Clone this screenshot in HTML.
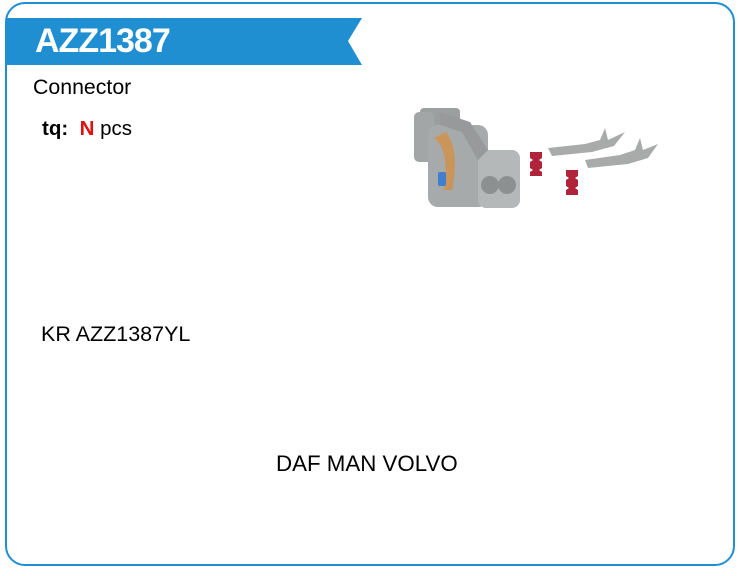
<!DOCTYPE html>
<html><head><style>
body{margin:0;width:740px;height:576px;background:#fff;font-family:"Liberation Sans",sans-serif;position:relative;overflow:hidden}
.box{position:absolute;left:5px;top:2px;width:726px;height:560px;border:2px solid #1f8fd2;border-radius:20px}
.t{position:absolute;white-space:nowrap;color:#000}
</style></head><body>
<div class="box"></div>
<svg style="position:absolute;left:0;top:0" width="740" height="576">
<polygon points="6,18 362,18 348,41 362,65 6,65" fill="#1f8fd2"/>
<g>
<rect x="420" y="108" width="40" height="20" rx="4" fill="#9c9fa0"/>
<rect x="414" y="112" width="20" height="50" rx="5" fill="#a3a6a7"/>
<rect x="428" y="125" width="60" height="82" rx="10" fill="#a7aaab"/>
<rect x="478" y="150" width="42" height="58" rx="8" fill="#b5b8b9"/>
<path d="M440 112 L470 122 L488 150 L478 160 L462 132 L440 125Z" fill="#97999a"/>
<path d="M434 138 Q450 150 444 190 L452 190 Q460 150 446 132Z" fill="#c9955a"/>
<rect x="438" y="172" width="8" height="14" rx="2" fill="#3f7fd0"/>
<circle cx="490" cy="185" r="9" fill="#8d9091"/>
<circle cx="507" cy="185" r="9" fill="#8d9091"/>
<path d="M530 152 l12 0 l0 6 l-3 2 l3 2 l0 6 l-3 2 l3 2 l0 4 l-12 0 l0-4 l3-2 l-3-2 l0-6 l3-2 l-3-2z" fill="#b0243a"/>
<path d="M566 170 l12 0 l0 6 l-3 2 l3 2 l0 6 l-3 2 l3 2 l0 5 l-12 0 l0-5 l3-2 l-3-2 l0-6 l3-2 l-3-2z" fill="#b0243a"/>
<path d="M548 148 L585 144 L600 140 L605 128 L608 140 L625 132 L614 146 L592 152 L552 156Z" fill="#a9abab"/>
<path d="M585 160 L620 155 L635 150 L640 138 L643 150 L658 144 L648 158 L628 164 L588 168Z" fill="#a9abab"/>
</g>
</svg>
<div class="t" style="left:35px;top:19px;font-size:34px;font-weight:bold;color:#fff;line-height:44px;letter-spacing:-1px">AZZ1387</div>
<div class="t" style="left:33px;top:75px;font-size:21.3px">Connector</div>
<div class="t" style="left:42px;top:117px;font-size:20.5px"><b>tq:</b>&nbsp; <b style="color:#e01010">N</b> pcs</div>
<div class="t" style="left:41px;top:322px;font-size:21.5px">KR AZZ1387YL</div>
<div class="t" style="left:276px;top:451px;font-size:22.3px">DAF MAN VOLVO</div>
</body></html>
